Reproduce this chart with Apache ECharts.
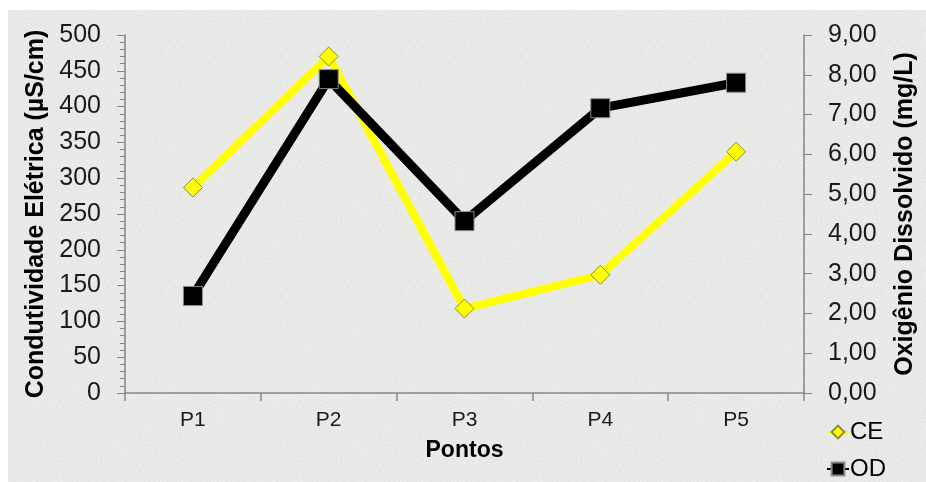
<!DOCTYPE html>
<html>
<head>
<meta charset="utf-8">
<script src="https://cdn.jsdelivr.net/npm/echarts@6/dist/echarts.min.js"></script>
<style>
  html, body { margin: 0; padding: 0; background: #ffffff; }
  #wrap { position: relative; width: 926px; height: 482px; overflow: hidden; }
  #panel {
    position: absolute; left: 8px; top: 10px; right: 0; bottom: 0;
    background-color: #e3e3e1;
    background-image: url("data:image/svg+xml;utf8,<svg xmlns='http://www.w3.org/2000/svg' width='240' height='240'><filter id='n'><feTurbulence type='fractalNoise' baseFrequency='0.95' numOctaves='2' stitchTiles='stitch'/><feColorMatrix type='matrix' values='0 0 0 0 1  0 0 0 0 1  0 0 0 0 1  0 0 0 0.9 -0.25'/></filter><rect width='240' height='240' filter='url(%23n)'/></svg>");
  }
  #chart { position: absolute; left: 0; top: 0; width: 926px; height: 482px; }
</style>
</head>
<body>
<div id="wrap">
  <div id="panel"></div>
  <div id="chart"></div>
</div>
<script>
// Sampling points along the watercourse
const pontos = ['P1', 'P2', 'P3', 'P4', 'P5'];
// Electrical conductivity, µS/cm (left axis)
const condutividade = [287, 470, 118, 165, 337];
// Dissolved oxygen, mg/L (right axis)
const oxigenio = [2.44, 7.89, 4.32, 7.16, 7.80];

const FONT = '"Liberation Sans", Arial, sans-serif';
const AXIS_GREY = '#868686';

const chart = echarts.init(document.getElementById('chart'), null, { renderer: 'canvas' });

chart.setOption({
  backgroundColor: 'transparent',
  animation: false,
  textStyle: { fontFamily: FONT },
  grid: { left: 125, right: 119, top: 35, bottom: 89, containLabel: false },
  legend: {
    orient: 'vertical',
    left: 826,
    top: 420,
    padding: 0,
    itemWidth: 22,
    itemHeight: 16,
    itemGap: 13,
    textStyle: { fontFamily: FONT, fontSize: 24, lineHeight: 24, color: '#000', padding: [0, 0, 0, -4] },
    data: ['CE', 'OD']
  },
  xAxis: {
    type: 'category',
    data: pontos,
    boundaryGap: true,
    name: 'Pontos',
    nameLocation: 'middle',
    nameGap: 46,
    nameTextStyle: { fontFamily: FONT, fontSize: 23, fontWeight: 'bold', color: '#000' },
    axisLine: { lineStyle: { color: AXIS_GREY, width: 1.5 } },
    axisTick: { show: true, inside: false, length: 8, lineStyle: { color: AXIS_GREY, width: 1.5 } },
    axisLabel: { fontFamily: FONT, fontSize: 21, color: '#1a1a1a', margin: 17 },
    splitLine: { show: false }
  },
  yAxis: [
    {
      type: 'value',
      min: 0, max: 500, interval: 50,
      position: 'left',
      name: 'Condutividade Elétrica (µS/cm)',
      nameLocation: 'middle',
      nameGap: 72,
      nameTextStyle: { fontFamily: FONT, fontSize: 25, fontWeight: 'bold', color: '#000' },
      axisLine: { show: true, lineStyle: { color: AXIS_GREY, width: 1.5 } },
      axisTick: { show: true, inside: false, length: 8, lineStyle: { color: AXIS_GREY, width: 1 } },
      minorTick: { show: true, splitNumber: 5, length: 5, lineStyle: { color: AXIS_GREY, width: 1 } },
      axisLabel: { fontFamily: FONT, fontSize: 25, color: '#1a1a1a', margin: 24 },
      splitLine: { show: false }
    },
    {
      type: 'value',
      min: 0, max: 9, interval: 1,
      position: 'right',
      name: 'Oxigênio Dissolvido (mg/L)',
      nameLocation: 'middle',
      nameGap: 89,
      nameRotate: 90,
      nameTextStyle: { fontFamily: FONT, fontSize: 25, fontWeight: 'bold', color: '#000' },
      axisLine: { show: true, lineStyle: { color: AXIS_GREY, width: 1.5 } },
      axisTick: { show: true, inside: false, length: 8, lineStyle: { color: AXIS_GREY, width: 1 } },
      axisLabel: {
        fontFamily: FONT, fontSize: 25, color: '#1a1a1a', margin: 24,
        formatter: v => v.toFixed(2).replace('.', ',')
      },
      splitLine: { show: false }
    }
  ],
  series: [
    {
      name: 'CE',
      type: 'line',
      yAxisIndex: 0,
      data: condutividade,
      symbol: 'diamond',
      symbolSize: 19,
      lineStyle: { color: '#ffff00', width: 8 },
      itemStyle: { color: '#ffff00', borderColor: '#8a8a3a', borderWidth: 1 }
    },
    {
      name: 'OD',
      type: 'line',
      yAxisIndex: 1,
      data: oxigenio,
      symbol: 'rect',
      symbolSize: 19,
      lineStyle: { color: '#000000', width: 9 },
      itemStyle: { color: '#000000', borderColor: '#8a8a8a', borderWidth: 1 }
    }
  ]
});
</script>
</body>
</html>
